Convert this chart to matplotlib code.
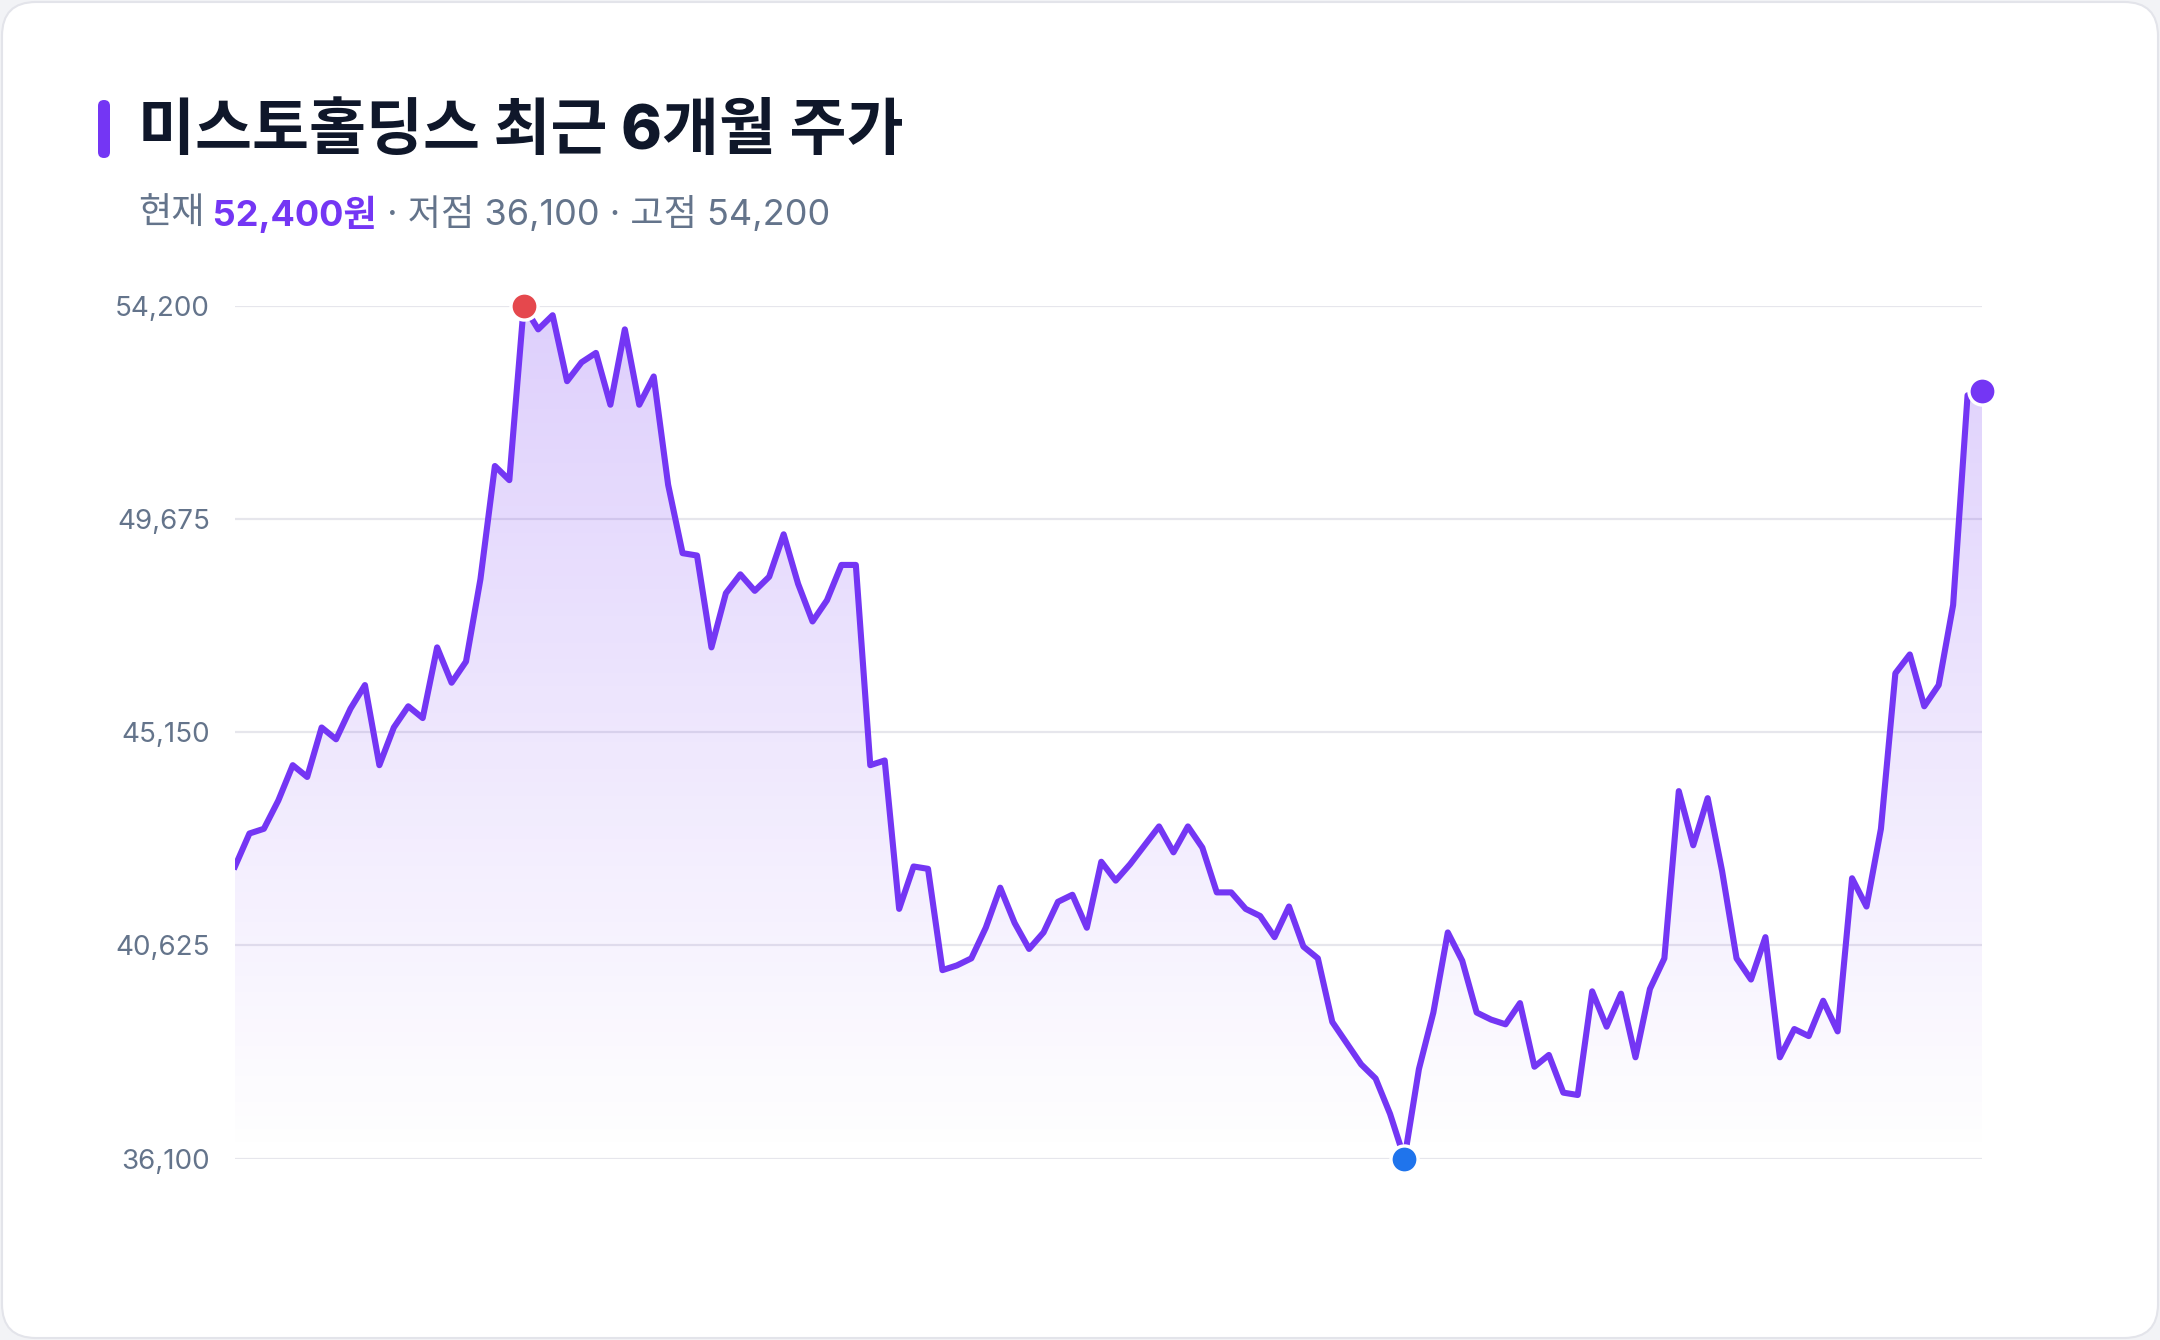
import numpy as np
import matplotlib
matplotlib.use('Agg')
import matplotlib.pyplot as plt
from matplotlib.patches import FancyBboxPatch
from matplotlib.colors import to_rgb

plt.rcParams['font.family'] = ['Inter', 'Noto Sans CJK KR', 'DejaVu Sans']

# daily close, last ~6 months
prices = [42300, 43000, 43100, 43700, 44450, 44200, 45250, 45000, 45650, 46150,
          44450, 45250, 45700, 45450, 46950, 46200, 46650, 48400, 50800, 50500,
          54200, 53700, 54000, 52600, 53000, 53200, 52100, 53700, 52100, 52700,
          50400, 48950, 48900, 46950, 48100, 48500, 48150, 48450, 49350, 48300,
          47500, 47950, 48700, 48700, 44450, 44550, 41400, 42300, 42250, 40100,
          40200, 40350, 41000, 41850, 41100, 40550, 40900, 41550, 41700, 41000,
          42400, 42000, 42350, 42750, 43150, 42600, 43150, 42700, 41750, 41750,
          41400, 41250, 40800, 41450, 40600, 40350, 39000, 38550, 38100, 37800,
          37050, 36100, 38000, 39200, 40900, 40300, 39200, 39050, 38950, 39400,
          38050, 38300, 37500, 37450, 39650, 38900, 39600, 38250, 39700, 40350,
          43900, 42750, 43750, 42200, 40350, 39900, 40800, 38250, 38850, 38700,
          39450, 38800, 42050, 41450, 43100, 46400, 46800, 45700, 46150, 47850,
          52300, 52400]
yticks = [36100, 40625, 45150, 49675, 54200]

title = '미스토홀딩스 최근 6개월 주가'
current = 52400
low = min(prices)
high = max(prices)

purple = '#7436f4'
red = '#e5484d'
blue = '#1f74ec'
navy = '#0f172a'
slate = '#64748b'

W, H = 2160, 1340
fig = plt.figure(figsize=(W / 100, H / 100), dpi=100)
fig.patch.set_facecolor('#f2f3f6')

card = FancyBboxPatch((2, 2), W - 4, H - 4, boxstyle='round,pad=0,rounding_size=34',
                      transform=None, facecolor='white', edgecolor='#e3e4ea', lw=1.5, zorder=0)
fig.add_artist(card)

# accent bar + title
bar = FancyBboxPatch((98, H - 158), 12, 58, boxstyle='round,pad=0,rounding_size=6',
                     transform=None, facecolor=purple, edgecolor='none')
fig.add_artist(bar)
fig.text(138 / W, 1 - 133 / H, title, fontsize=44.6, fontweight='heavy', color=navy,
         va='center', ha='left')

# subtitle in pieces
r = fig.canvas.get_renderer()
parts = [('현재', slate, 'normal'),
         (' %s원' % format(current, ','), purple, 'bold'),
         (' · 저점 %s · 고점 %s' % (format(low, ','), format(high, ',')), slate, 'normal')]
x = 138
for s, c, w in parts:
    t = fig.text(x / W, 1 - 214 / H, s, fontsize=26, color=c, fontweight=w,
                 va='center', ha='left')
    bb = t.get_window_extent(r)
    x = bb.x1

ax = fig.add_axes([235 / W, 1 - 1158.6 / H, (1982 - 235) / W, (1158.6 - 305.8) / H])
ax.set_facecolor('none')
n = len(prices)
xs = np.arange(n)
ax.set_xlim(0, n - 1)
ax.set_ylim(yticks[0], yticks[-1])

# gradient area under line
poly = ax.fill_between(xs, prices, yticks[0], color='none', lw=0)
grad = np.zeros((256, 1, 4))
grad[..., :3] = to_rgb(purple)
grad[..., 3] = np.linspace(0.24, 0.0, 256)[:, None]
im = ax.imshow(grad, extent=[0, n - 1, yticks[0], yticks[-1]], aspect='auto',
               origin='upper', zorder=1)
im.set_clip_path(poly.get_paths()[0], transform=ax.transData)

ax.plot(xs, prices, color=purple, lw=4.4, zorder=3, solid_joinstyle='round')

i_hi = int(np.argmax(prices))
i_lo = int(np.argmin(prices))
for i, c in [(i_hi, red), (i_lo, blue), (n - 1, purple)]:
    ax.plot(i, prices[i], 'o', ms=19.5, color=c, mec='white', mew=2.4, zorder=5, clip_on=False)

ax.set_yticks(yticks)
ax.set_yticklabels([format(v, ',') for v in yticks], fontsize=20, color=slate)
ax.set_xticks([])
ax.tick_params(axis='y', length=0, pad=18)
ax.grid(axis='y', color='#e6e6ec', lw=1.6, zorder=0)
ax.set_axisbelow(True)
for sp in ax.spines.values():
    sp.set_visible(False)

fig.savefig('out.png', dpi=100, facecolor=fig.get_facecolor())
